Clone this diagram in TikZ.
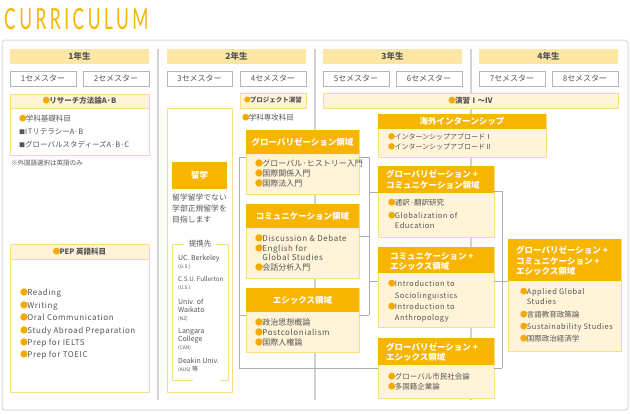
\documentclass[tikz,border=0pt]{standalone}
\usepackage{fontspec}
\setmainfont{Noto Sans CJK JP}
\newfontfamily\titlefont[FakeStretch=0.6,LetterSpace=12]{Lato}
\usetikzlibrary{calc}
\definecolor{org}{HTML}{F7B500}
\definecolor{lt}{HTML}{FFF3D8}
\definecolor{yb}{HTML}{FCDC85}
\definecolor{yr}{HTML}{FEE6A4}
\definecolor{tx}{HTML}{555555}
\definecolor{bu}{HTML}{F3AA00}
\definecolor{sg}{HTML}{B0B7BD}
\definecolor{dv}{HTML}{CDD2D6}
\definecolor{cn}{HTML}{A8AFB5}
\definecolor{fr}{HTML}{D6DADD}
\newcommand\bul{\makebox[0.9em][l]{\color{bu}●}}
\newcommand\sqb{\makebox[0.8em][l]{\color{tx}\fontsize{6}{6}\selectfont■}}
\newcommand\ind{\hspace*{0.9em}}
\newcommand\lat[1]{{\addfontfeature{LetterSpace=7}#1}}
\newcommand\bx[7]{\node[base,#6,minimum width={(#4)-(#2)},minimum height={(#5)-(#3)}] (#1) at (#2,#3) {#7};}
\tikzset{
 base/.style={anchor=north west, inner sep=0pt, outer sep=0pt},
 yearhdr/.style={fill=yr, text=tx, font=\bfseries\fontsize{8.5}{10}\selectfont},
 sem/.style={draw=sg, line width=0.8pt, fill=white, text=tx, font=\fontsize{8}{10}\selectfont},
 lbar/.style={draw=yb, line width=0.8pt, fill=lt, text=tx, font=\bfseries\fontsize{7.5}{9}\selectfont},
 body/.style={draw=yb, line width=0.8pt, fill=lt},
 wbody/.style={draw=yb, line width=0.8pt, fill=white},
 ohead/.style={fill=org, text=white, font=\bfseries\fontsize{8.5}{10}\selectfont},
 htxt/.style={text=white, inner sep=0pt, anchor=north west, align=left},
 itm/.style={text=tx, inner sep=0pt, anchor=north west, align=left},
 conn/.style={draw=cn, line width=0.8pt},
 divider/.style={draw=dv, line width=1.4pt},
}
\begin{document}
\begin{tikzpicture}[x=1pt,y=-1pt]
\useasboundingbox[fill=white] (0,0) rectangle (630,413);
% title
\node[anchor=base west, inner sep=0pt, text=org, font=\titlefont\fontsize{29}{29}\selectfont] (title) at (4,29) {CURRICULUM};
% frame
\draw[fr, line width=1pt, rounded corners=3pt] (2,40) rectangle (628,410);
% dividers
\draw[divider] (158,49) -- (158,400);
\draw[divider] (315,49) -- (315,400);
\draw[divider] (471,49) -- (471,400);
% connectors
\draw[conn] (239,157) |- (239,368);
\draw[conn] (369,157) -- (369,315);
\draw[conn] (502,191) -- (502,368);
% year headers
\bx{hy1}{10}{49}{149}{64}{yearhdr}{1年生}
\bx{hy2}{167}{49}{306}{64}{yearhdr}{2年生}
\bx{hy3}{323}{49}{462}{64}{yearhdr}{3年生}
\bx{hy4}{479}{49}{618}{64}{yearhdr}{4年生}
% semesters
\bx{s1}{10}{71}{76}{86}{sem}{1セメスター}
\bx{s2}{83}{71}{149}{86}{sem}{2セメスター}
\bx{s3}{167}{71}{232}{86}{sem}{3セメスター}
\bx{s4}{240}{71}{306}{86}{sem}{4セメスター}
\bx{s5}{323}{71}{389}{86}{sem}{5セメスター}
\bx{s6}{396}{71}{462}{86}{sem}{6セメスター}
\bx{s7}{479}{71}{545}{86}{sem}{7セメスター}
\bx{s8}{552}{71}{618}{86}{sem}{8セメスター}
% year 1
\bx{res}{10}{94}{149}{155}{wbody}{}
\bx{resh}{10}{94}{149}{108}{lbar}{\bul リサーチ方法論A·B}
\node[itm, font=\fontsize{7.5}{13}\selectfont] (resi) at (19,114.5) {\bul 学科基礎科目\\\sqb \lat{IT}リテラシーA·B\\\sqb グローバルスタディーズA·B·C};
\node[itm, anchor=west, font=\fontsize{6.5}{8}\selectfont] (note) at (11,163) {※外国語選択は英語のみ};
\bx{pep}{10}{244}{149}{392}{wbody}{}
\bx{peph}{10}{244}{149}{259}{lbar}{\bul PEP 英語科目}
\node[itm, font=\fontsize{8}{12.4}\selectfont] (pepi) at (20,289) {\bul \lat{Reading}\\\bul \lat{Writing}\\\bul \lat{Oral Communication}\\\bul \lat{Study Abroad Preparation}\\\bul \lat{Prep for IELTS}\\\bul \lat{Prep for TOEIC}};
% year 2 : ryugaku
\bx{ryu}{167}{108}{232}{392}{wbody}{}
\bx{ryuh}{172}{162}{227}{189}{ohead}{留学}
\node[itm, font=\fontsize{7.8}{11}\selectfont] (ryut) at (172,194) {留学留学でない\\学部正規留学を\\目指します};
\draw[draw=yb, line width=0.8pt] (184,244) -- (172,244) -- (172,380) -- (193,380);
\draw[draw=yb, line width=0.8pt] (220,380) -- (228,380) -- (228,244) -- (216,244);
\node[text=tx, inner sep=0pt, font=\fontsize{7.5}{9}\selectfont] (teikei) at (200,244) {提携先};
\node[itm, font=\fontsize{7}{8}\selectfont] (p1) at (178,254.5) {UC. Berkeley\\{\fontsize{4.8}{6}\selectfont(U.S.)}};
\node[itm, font=\fontsize{6.3}{8}\selectfont] (p2) at (178,276.5) {C.S.U. Fullerton\\{\fontsize{4.8}{6}\selectfont(U.S.)}};
\node[itm, font=\fontsize{7}{8}\selectfont] (p3) at (178,298.5) {Univ. of\\Waikato\\{\fontsize{4.8}{6}\selectfont(NZ)}};
\node[itm, font=\fontsize{7}{8}\selectfont] (p4) at (178,328.5) {Langara\\College\\{\fontsize{4.8}{6}\selectfont(CAN)}};
\node[itm, font=\fontsize{7}{8}\selectfont] (p5) at (178,357.5) {Deakin Univ.\\{\fontsize{4.8}{6}\selectfont(AUS)} {\fontsize{6}{6}\selectfont 等}};
% project
\bx{proj}{240}{93}{306}{108}{lbar,font=\bfseries\fontsize{6.5}{8}\selectfont}{\bul プロジェクト演習}
\node[itm, anchor=west, font=\fontsize{7.5}{9}\selectfont] (senkou) at (242,118) {\bul 学科専攻科目};
% seminar
\bx{ens}{323}{93}{618}{108}{lbar}{\bul 演習Ⅰ〜Ⅳ}
% domain boxes year 2
\bx{globB}{246}{130}{359}{194}{body}{}
\bx{globH}{246}{130}{359}{154}{ohead}{グローバリゼーション領域}
\node[itm, font=\fontsize{8}{10}\selectfont] (globI) at (255,160) {\bul グローバル·ヒストリー入門\\\bul 国際関係入門\\\bul 国際法入門};
\bx{commB}{246}{204}{359}{278}{body}{}
\bx{commH}{246}{204}{359}{228}{ohead}{コミュニケーション領域}
\node[itm, font=\fontsize{8}{9.5}\selectfont] (commI) at (255,235) {\bul \lat{Discussion \& Debate}\\\bul \lat{English for}\\\ind \lat{Global Studies}\\\bul 会話分析入門};
\bx{ethB}{246}{288}{359}{352}{body}{}
\bx{ethH}{246}{288}{359}{312}{ohead}{エシックス領域}
\node[itm, font=\fontsize{8}{10}\selectfont] (ethI) at (255,319) {\bul 政治思想概論\\\bul \lat{Postcolonialism}\\\bul 国際人権論};
% year 3
\bx{kaiB}{378}{114}{546}{157}{body}{}
\bx{kaiH}{378}{114}{546}{129}{ohead}{海外インターンシップ}
\node[itm, font=\fontsize{7}{10}\selectfont] (kaiI) at (388,133.5) {\bul インターンシップアブロードⅠ\\\bul インターンシップアブロードⅡ};
\bx{gcB}{378}{166}{494}{237}{body}{}
\bx{gcH}{378}{166}{494}{193}{ohead}{}
\node[htxt, font=\bfseries\fontsize{8.5}{11}\selectfont] (gcT) at (386,170) {グローバリゼーション +\\コミュニケーション領域};
\node[itm, font=\fontsize{7.5}{10}\selectfont] (gcI) at (388,199) {\bul 通訳·翻訳研究\\[3pt]\bul \lat{Globalization of}\\\ind \lat{Education}};
\bx{ceB}{378}{247}{494}{327}{body}{}
\bx{ceH}{378}{247}{494}{273}{ohead}{}
\node[htxt, font=\bfseries\fontsize{8.5}{10}\selectfont] (ceT) at (390,252) {コミュニケーション +\\エシックス領域};
\node[itm, font=\fontsize{7.5}{11.3}\selectfont] (ceI) at (388,280.5) {\bul \lat{Introduction to}\\\ind \lat{Sociolinguistics}\\\bul \lat{Introduction to}\\\ind \lat{Anthropology}};
\bx{geB}{378}{338}{494}{398}{body}{}
\bx{geH}{378}{338}{494}{365}{ohead}{}
\node[htxt, font=\bfseries\fontsize{8.5}{10}\selectfont] (geT) at (386,343) {グローバリゼーション +\\エシックス領域};
\node[itm, font=\fontsize{7.5}{10}\selectfont] (geI) at (388,372.5) {\bul グローバル市民社会論\\\bul 多国籍企業論};
% year 4
\bx{gceB}{508}{239}{621}{351}{body}{}
\bx{gceH}{508}{239}{621}{281}{ohead}{}
\node[htxt, font=\bfseries\fontsize{8.5}{10.5}\selectfont] (gceT) at (516,246) {グローバリゼーション +\\コミュニケーション +\\エシックス領域};
\node[itm, font=\fontsize{7.5}{12.3}\selectfont] (gceI) at (520,288.5) {\bul \lat{Applied Global}\\[-2.3pt]\ind \lat{Studies}\\\bul 言語教育政策論\\\bul \lat{Sustainability Studies}\\\bul 国際政治経済学};
% short connectors
\draw[conn] (globB.west |- 0,157) -- (239,157);
\draw[conn] (ethB.west |- 0,315) -- (239,315);
\draw[conn] (239,368) -- (geB.west |- 0,368);
\draw[conn] (globB.east |- 0,157) -- (369,157);
\draw[conn] (commB.east |- 0,236) -- (369,236);
\draw[conn] (ethB.east |- 0,315) -- (369,315);
\draw[conn] (369,192) -- (gcB.west |- 0,192);
\draw[conn] (369,281) -- (ceB.west |- 0,281);
\draw[conn] (gcB.east |- 0,191) -- (502,191);
\draw[conn] (502,368) -- (geB.east |- 0,368);
\draw[conn] (ceB.east |- 0,281) -- (gceB.west |- 0,281);
\end{tikzpicture}
\end{document}
